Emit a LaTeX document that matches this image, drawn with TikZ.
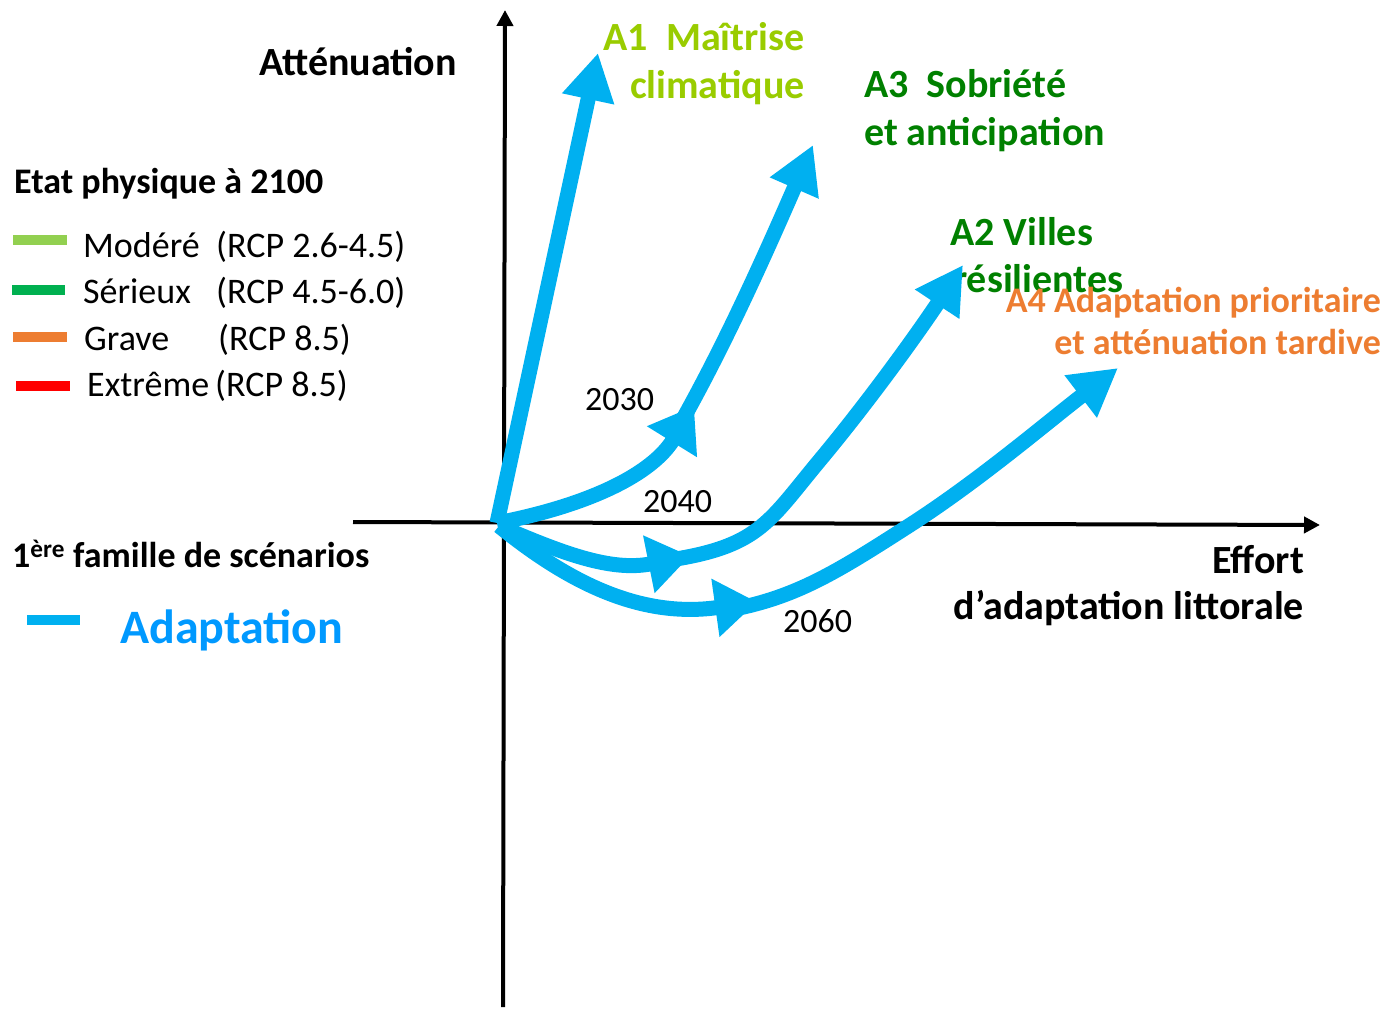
\documentclass[tikz,border=0pt]{standalone}
\usepackage{fontspec}
\setmainfont{Carlito}
\usetikzlibrary{arrows.meta}
\definecolor{arrowblue}{RGB}{0,176,240}
\definecolor{adaptblue}{RGB}{0,153,255}
\definecolor{aonegreen}{RGB}{153,204,0}
\definecolor{darkgr}{RGB}{0,128,0}
\definecolor{modere}{RGB}{146,208,80}
\definecolor{serieux}{RGB}{0,176,80}
\definecolor{grave}{RGB}{237,125,49}
\definecolor{extreme}{RGB}{255,0,0}
\tikzset{
  axisline/.style={line width=4pt, black, -{Triangle[length=16pt,width=16pt]}},
  bluearrow/.style={line width=15pt, arrowblue, -{Triangle[length=47pt,width=50pt]}},
  bluemid/.style={line width=15pt, arrowblue, -{Triangle[length=42pt,width=56pt]}},
  legline/.style={line width=10pt},
  bigtxt/.style={inner sep=0pt, font=\fontsize{40}{48}\selectfont\bfseries},
  legtitle/.style={inner sep=0pt, font=\fontsize{36}{43}\selectfont\bfseries},
  legtxt/.style={inner sep=0pt, font=\fontsize{36}{43}\selectfont},
  yeartxt/.style={inner sep=0pt, font=\fontsize{34}{40}\selectfont},
}
\begin{document}
\begin{tikzpicture}[x=1pt,y=-1pt]
\useasboundingbox (0,0) rectangle (1392,1009);
% axes
\coordinate (ybot) at (503,1007);
\coordinate (ytop) at (505,10);
\coordinate (xl) at (353,522);
\coordinate (xr) at (1320,525);
\draw[axisline] (ybot) -- (ytop);
\draw[axisline] (xl) -- (xr);

% labels
\node[bigtxt, anchor=base east] (att) at (457,75) {Atténuation};
\node[bigtxt, anchor=base east] (eff1) at (1304,573) {Effort};
\node[bigtxt, anchor=base east] (eff2) at (1304,619) {d’adaptation littorale};

\node[bigtxt, anchor=base east, text=aonegreen] (a1a) at (805,50) {A1\ \ Maîtrise};
\node[bigtxt, anchor=base east, text=aonegreen] (a1b) at (805,98) {climatique};
\node[bigtxt, anchor=base west, text=darkgr] (a3a) at (864,97) {A3\ \ Sobriété};
\node[bigtxt, anchor=base west, text=darkgr] (a3b) at (864,145) {et anticipation};
\node[bigtxt, anchor=base west, text=darkgr] (a2a) at (950,245) {A2 Villes};
\node[bigtxt, anchor=base west, text=darkgr] (a2b) at (953,292) {résilientes};
\node[legtitle, anchor=base east, text=grave] (a4a) at (1381,312) {A4 Adaptation prioritaire};
\node[legtitle, anchor=base east, text=grave] (a4b) at (1381,354) {et atténuation tardive};

\node[yeartxt, anchor=base west] (y2030) at (585,410) {2030};
\node[yeartxt, anchor=base west] (y2040) at (643,512) {2040};
\node[yeartxt, anchor=base west] (y2060) at (783,632) {2060};

% legend
\node[legtitle, anchor=base west] (legt) at (14,193) {Etat physique à 2100};
\coordinate (l1a) at (13,240); \coordinate (l1b) at (67,240);
\coordinate (l2a) at (12,289.5); \coordinate (l2b) at (65,289.5);
\coordinate (l3a) at (13,337); \coordinate (l3b) at (67,337);
\coordinate (l4a) at (16,385.5); \coordinate (l4b) at (70,385.5);
\draw[legline, modere] (l1a) -- (l1b);
\draw[legline, serieux] (l2a) -- (l2b);
\draw[legline, grave] (l3a) -- (l3b);
\draw[legline, extreme] (l4a) -- (l4b);
\node[legtxt, anchor=base west] (m1) at (83,257) {Modéré};
\node[legtxt, anchor=base west] (r1) at (216,257) {(RCP 2.6-4.5)};
\node[legtxt, anchor=base west] (m2) at (83,303) {Sérieux};
\node[legtxt, anchor=base west] (r2) at (216,303) {(RCP 4.5-6.0)};
\node[legtxt, anchor=base west] (m3) at (84,350) {Grave};
\node[legtxt, anchor=base west] (r3) at (218,350) {(RCP 8.5)};
\node[legtxt, anchor=base west] (m4) at (87,396) {Extrême};
\node[legtxt, anchor=base west] (r4) at (215,396) {(RCP 8.5)};

\node[legtitle, anchor=base west] (fam) at (12,567) {1\textsuperscript{ère} famille de scénarios};
\coordinate (l5a) at (27,620); \coordinate (l5b) at (80,620);
\draw[legline, arrowblue] (l5a) -- (l5b);
\node[inner sep=0pt, anchor=base west, text=adaptblue, font=\fontsize{48}{56}\selectfont\bfseries] (adapt) at (120,643) {Adaptation};

% scenario arrows
\coordinate (O) at (497,523);
\coordinate (A1tip) at (598,53);
\coordinate (m2030) at (694,406);
\coordinate (A3tip) at (813,145);
\coordinate (m2040) at (690,556);
\coordinate (A2tip) at (963,265);
\coordinate (m2060) at (757,602);
\coordinate (A4tip) at (1118,368);

\draw[bluearrow] (O) -- (A1tip);

\draw[bluemid] (O) .. controls (590,505) and (652,474) .. (m2030);
\draw[bluearrow] (678,428) .. controls (725,345) and (765,255) .. (A3tip);

\draw[bluemid] ([shift={(2,3)}]O) .. controls (560,552) and (610,572) .. (m2040);
\draw[bluearrow] ([shift={(-14,3)}]m2040) .. controls (760,545) and (770,520) .. (820,460) .. controls (870,400) and (920,330) .. (A2tip);

\draw[bluemid] ([shift={(2,3)}]O) .. controls (580,592) and (650,617) .. (m2060);
\draw[bluearrow] ([shift={(-18,6)}]m2060) .. controls (800,595) and (840,570) .. (910,525) .. controls (980,480) and (1050,420) .. (A4tip);
\end{tikzpicture}
\end{document}
